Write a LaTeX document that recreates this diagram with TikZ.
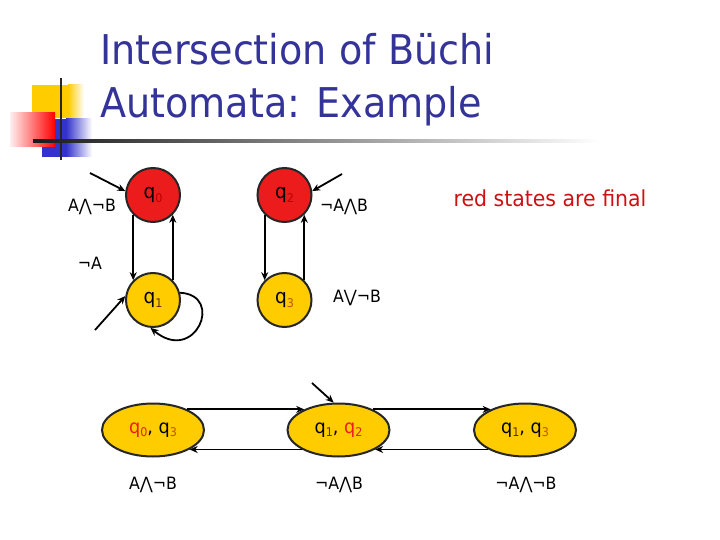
\documentclass[tikz,border=0pt]{standalone}
\usepackage{fontspec}
\setmainfont[FakeStretch=0.93]{DejaVu Sans}
\usetikzlibrary{arrows.meta,shapes.geometric}
\definecolor{titleblue}{RGB}{51,51,153}
\definecolor{qred}{RGB}{236,28,28}
\definecolor{qyel}{RGB}{255,204,0}
\definecolor{subred}{RGB}{185,0,0}
\definecolor{suborange}{RGB}{190,85,0}
\definecolor{subdark}{RGB}{90,50,0}
\definecolor{lblred}{RGB}{204,17,17}
\definecolor{logoblue}{RGB}{51,51,204}
\definecolor{logored}{RGB}{255,0,0}
\newcommand\mkq[3]{{\color{#1}q}{\fontsize{12}{12}\selectfont\raisebox{-3.5pt}{\color{#2}#3}}}
\begin{document}
\begin{tikzpicture}[x=1pt,y=-1pt,
  state/.style={circle, draw=black!85, line width=2pt, minimum size=54pt, inner sep=0pt, font=\fontsize{20}{20}\selectfont},
  finalstate/.style={state, fill=qred},
  plainstate/.style={state, fill=qyel},
  pstate/.style={ellipse, draw=black!85, line width=2pt, fill=qyel, minimum width=102pt, minimum height=53pt, inner sep=0pt, font=\fontsize{19}{19}\selectfont},
  arr/.style={-{Stealth[length=8pt,width=7pt]}, line width=1.8pt},
  lbl/.style={font=\fontsize{17}{17}\selectfont, inner sep=0pt},
  titletext/.style={anchor=base west, inner sep=0pt, font=\fontsize{41}{41}\selectfont, text=titleblue}]
\useasboundingbox (0,0) rectangle (720,540);
\fill[white] (0,0) rectangle (720,540);
% logo
\fill[qyel] (32,85) rectangle (68,118);
\shade[left color=qyel, right color=white] (68,85) rectangle (84,118);
\fill[logoblue] (42,119) rectangle (66,157);
\shade[left color=logoblue, right color=white] (66,119) rectangle (92,157);
\shade[left color=red!6, right color=logored] (10,113) rectangle (55,147);
\draw[line width=2.5pt, black!85] (61,78) -- (61,160);
\shade[left color=black!90, middle color=black!45, right color=white] (33,139.8) rectangle (600,142.6);
% title
\node[titletext] (t1) at (100,65) {Intersection of Büchi};
\node[titletext] (t2) at (100,118) {Automata: Example};
% first automaton
\node[finalstate] (q0) at (153,195) {\mkq{black}{subred}{0}};
\node[plainstate] (q1) at (153,300) {\mkq{black}{subdark}{1}};
\draw[arr] (q0.-135) -- (q1.135);
\draw[arr] (q1.45) -- (q0.-45);
\draw[arr] (q1.15) .. controls (225,295) and (195,365) .. (q1.-95);
\coordinate (i0) at (90,173);
\coordinate (i1) at (95,330);
\draw[arr] (i0) -- (q0.172);
\draw[arr] (i1) -- (q1.172);
\node[lbl] (l0) at (92,207) {A⋀¬B};
\node[lbl] (l1) at (90,263) {¬A};
% second automaton
\node[finalstate] (q2) at (284.5,195) {\mkq{black}{subred}{2}};
\node[plainstate] (q3) at (284.5,300) {\mkq{black}{suborange}{3}};
\draw[arr] (q2.-135) -- (q3.135);
\draw[arr] (q3.45) -- (q2.-45);
\coordinate (i2) at (342,174);
\draw[arr] (i2) -- (q2.8);
\node[lbl] (l2) at (344,207) {¬A⋀B};
\node[lbl] (l3) at (357,298) {A⋁¬B};
\node[inner sep=0pt, font=\fontsize{22}{22}\selectfont, text=lblred] (note) at (550,198) {red states are final};
% product automaton
\node[pstate] (e1) at (153,430) {\mkq{qred}{qred}{0}, \mkq{black}{suborange}{3}};
\node[pstate] (e2) at (338.5,430) {\mkq{black}{subdark}{1}, \mkq{qred}{qred}{2}};
\node[pstate] (e3) at (525,430) {\mkq{black}{subdark}{1}, \mkq{black}{suborange}{3}};
\draw[arr] (e1.31) -- (e2.149);
\draw[arr] (e2.-152) -- (e1.-28);
\draw[arr] (e2.31) -- (e3.149);
\draw[arr] (e3.-152) -- (e2.-28);
\coordinate (i3) at (312,383);
\draw[arr] (i3) -- (e2.100);
\node[lbl] (m1) at (153,485) {A⋀¬B};
\node[lbl] (m2) at (339,485) {¬A⋀B};
\node[lbl] (m3) at (526,485) {¬A⋀¬B};
\end{tikzpicture}
\end{document}
